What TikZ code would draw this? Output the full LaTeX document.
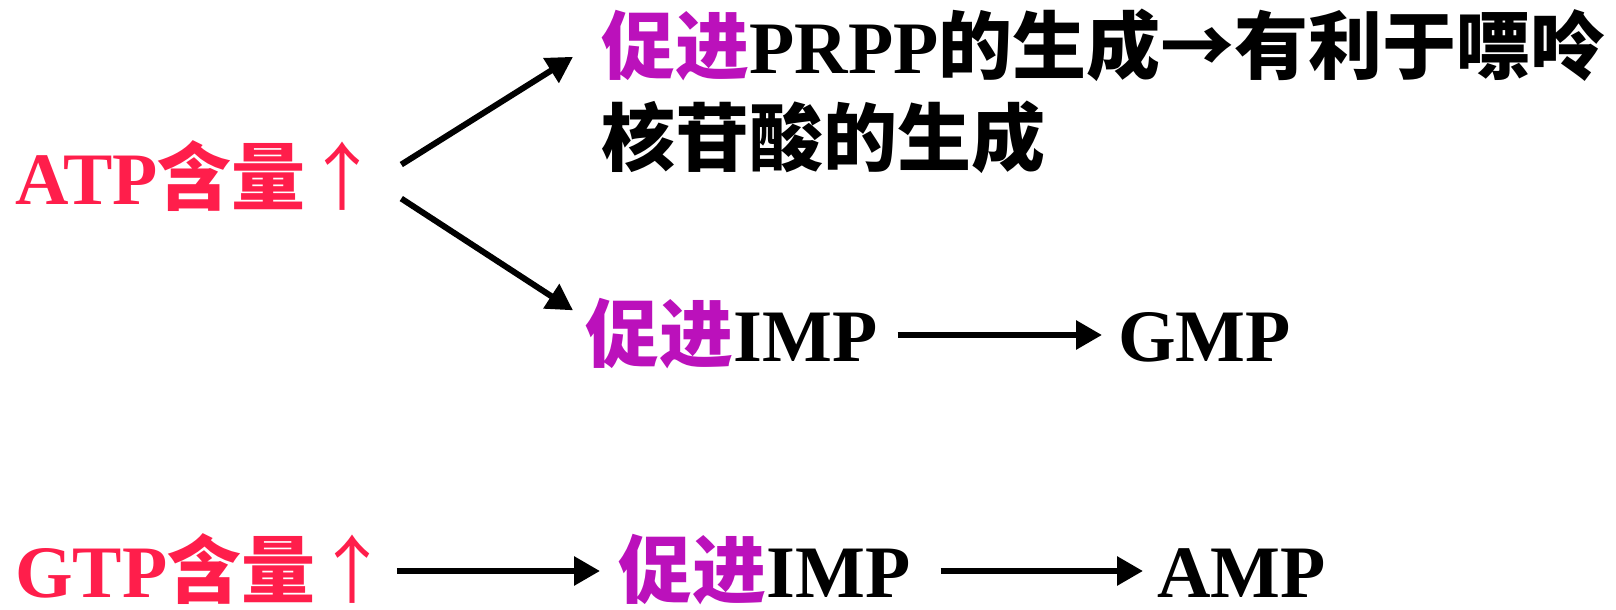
\documentclass[tikz,border=0pt]{standalone}
\usepackage{fontspec}
\setmainfont{Liberation Serif}
\newfontfamily\cjk{Noto Sans CJK SC}
\usetikzlibrary{arrows.meta,calc}
\definecolor{hred}{RGB}{255,30,75}
\definecolor{hpur}{RGB}{187,17,187}
\tikzset{
 lbl/.style={inner sep=0pt, anchor=base west, font=\fontsize{37}{44}\selectfont\bfseries},
 arr/.style={line width=3pt, -{Triangle[length=13pt,width=14pt]}}
}
\newcommand\zh[1]{{\cjk #1}}
\newcommand\uparr{{\cjk\mdseries ↑}}
\begin{document}
\begin{tikzpicture}[x=0.5pt,y=-0.5pt]
\useasboundingbox[fill=white] (0,0) rectangle (1616,610);
\node[lbl,text=hred] (atp) at (15,204) {ATP\zh{含量}\uparr};
\node[lbl] (l1) at (601,74) {{\color{hpur}\zh{促进}}PRPP\zh{的生成→有利于嘌呤}};
\node[lbl] (l2) at (601,165) {\zh{核苷酸的生成}};
\node[lbl] (imp1) at (585,361) {{\color{hpur}\zh{促进}}IMP};
\node[lbl] (gmp) at (1118,361) {GMP};
\node[lbl,text=hred] (gtp) at (15,597) {GTP\zh{含量}\uparr};
\node[lbl] (imp2) at (618,597) {{\color{hpur}\zh{促进}}IMP};
\node[lbl] (amp) at (1157,597) {AMP};
\draw[arr] ([shift={(21,-11)}]atp.east) -- ([shift={(-28,11)}]l1.west);
\draw[arr] ([shift={(21,23)}]atp.east) -- ([shift={(-12,13)}]imp1.north west);
\draw[arr] ([shift={(20,-26)}]imp1.base east) -- ([shift={(-16,-26)}]gmp.base west);
\draw[arr] ([shift={(7,-26)}]gtp.base east) -- ([shift={(-18,-26)}]imp2.base west);
\draw[arr] ([shift={(30,-26)}]imp2.base east) -- ([shift={(-14,-26)}]amp.base west);
\end{tikzpicture}
\end{document}
